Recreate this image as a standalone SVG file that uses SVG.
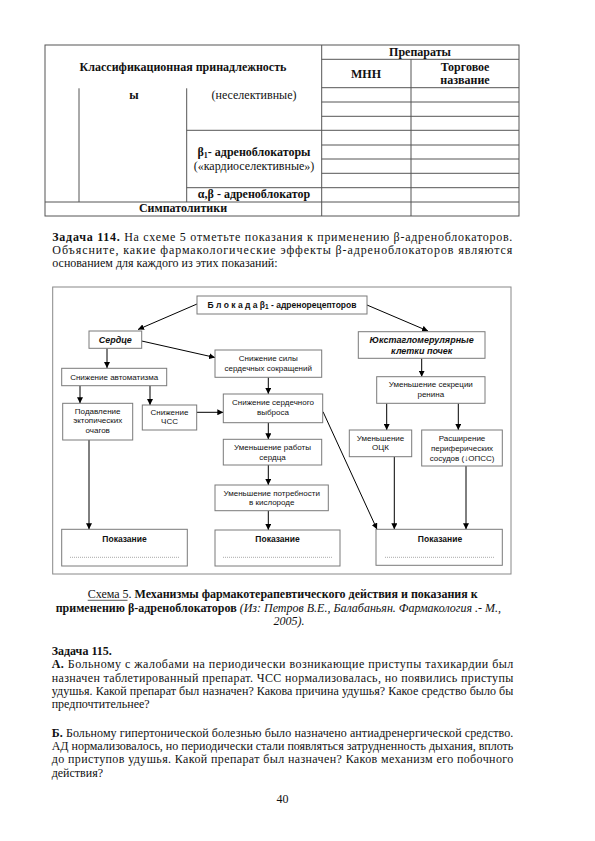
<svg xmlns="http://www.w3.org/2000/svg" width="595" height="841" viewBox="0 0 595 841">
<style>
.tl{stroke:#555;stroke-width:1;fill:none}
.tt{font-family:"Liberation Serif","Times New Roman",serif;font-size:12px;fill:#111}
.b{font-weight:bold}
.i{font-style:italic}
.c{text-anchor:middle}
.box{fill:#fff;stroke:#7a7a7a;stroke-width:1}
.dt{font-family:"Liberation Sans",Arial,sans-serif;font-size:8px;fill:#111;text-anchor:middle}
.db{font-weight:bold;font-size:8.5px}
.bi{font-weight:bold;font-style:italic;font-size:9px}
.dot{stroke:#777;stroke-width:0.8;stroke-dasharray:0.8 1.2}
.ar{stroke:#000;stroke-width:1;fill:none;marker-end:url(#ah)}
</style>
<defs>
<marker id="ah" viewBox="0 0 10 10" refX="10" refY="5" markerWidth="6" markerHeight="6" markerUnits="userSpaceOnUse" orient="auto">
<path d="M0,0 L10,5 L0,10 z" fill="#000"/>
</marker>
</defs>
<rect width="595" height="841" fill="#fff"/>

<!-- Table -->
<g id="table">
<rect class="tl" x="45" y="45" width="474" height="171"/>
<line class="tl" x1="321.7" y1="45" x2="321.7" y2="216"/>
<line class="tl" x1="411" y1="59.3" x2="411" y2="216"/>
<line class="tl" x1="321.7" y1="59.3" x2="519" y2="59.3"/>
<line class="tl" x1="321.7" y1="87.7" x2="519" y2="87.7"/>
<line class="tl" x1="321.7" y1="102" x2="519" y2="102"/>
<line class="tl" x1="321.7" y1="116.3" x2="519" y2="116.3"/>
<line class="tl" x1="186.7" y1="130.3" x2="519" y2="130.3"/>
<line class="tl" x1="321.7" y1="145" x2="519" y2="145"/>
<line class="tl" x1="321.7" y1="159" x2="519" y2="159"/>
<line class="tl" x1="321.7" y1="173.3" x2="519" y2="173.3"/>
<line class="tl" x1="186.7" y1="187.7" x2="519" y2="187.7"/>
<line class="tl" x1="45" y1="202" x2="519" y2="202"/>
<line class="tl" x1="79" y1="88.3" x2="79" y2="202"/>
<line class="tl" x1="186.7" y1="88.3" x2="186.7" y2="202"/>
<text class="tt b c" x="183" y="70.7">Классификационная принадлежность</text>
<text class="tt b c" x="420" y="56">Препараты</text>
<text class="tt b c" x="366" y="77.5">МНН</text>
<text class="tt b c" x="465" y="70.5">Торговое</text>
<text class="tt b c" x="465" y="84">название</text>
<text class="tt b c" x="134" y="99">ы</text>
<text class="tt c" x="254" y="99">(неселективные)</text>
<text class="tt b c" x="254" y="156">β<tspan font-size="8" dy="2">1</tspan><tspan dy="-2">- адреноблокаторы</tspan></text>
<text class="tt c" x="254" y="170">(«кардиоселективные»)</text>
<text class="tt b c" x="254" y="198">α,β - адреноблокатор</text>
<text class="tt b c" x="183" y="212">Симпатолитики</text>
</g>

<!-- Task 114 -->
<text class="tt" x="52.3" y="240.7" textLength="460" lengthAdjust="spacing"><tspan class="b">Задача 114.</tspan> На схеме 5 отметьте показания к применению β-адреноблокаторов.</text>
<text class="tt" x="52.3" y="254" textLength="460" lengthAdjust="spacing">Объясните, какие фармакологические эффекты β-адреноблокаторов являются</text>
<text class="tt" x="52.3" y="267.3">основанием для каждого из этих показаний:</text>

<!-- Diagram frame -->
<rect x="52.7" y="287" width="458.3" height="287" fill="none" stroke="#888" stroke-width="1"/>

<g id="connectors">
<line class="ar" x1="197" y1="304" x2="138" y2="329.5"/>
<line class="ar" x1="367" y1="305" x2="428" y2="331"/>
<line class="ar" x1="107" y1="348.3" x2="107" y2="368"/>
<line class="ar" x1="141.7" y1="341" x2="215" y2="357.5"/>
<line class="ar" x1="80" y1="385.7" x2="80" y2="403.3"/>
<line class="ar" x1="150" y1="385.7" x2="150" y2="405"/>
<line class="ar" x1="196.7" y1="412.3" x2="223.3" y2="412.3"/>
<line class="ar" x1="268.3" y1="377.3" x2="268.3" y2="394"/>
<line class="ar" x1="268.3" y1="422.7" x2="268.3" y2="439.3"/>
<line class="ar" x1="268.3" y1="465" x2="268.3" y2="485"/>
<line class="ar" x1="268.3" y1="510.7" x2="268.3" y2="530"/>
<line class="ar" x1="89" y1="440" x2="89" y2="529.3"/>
<line class="ar" x1="323" y1="411.7" x2="377" y2="529.3"/>
<line class="ar" x1="421.7" y1="358.3" x2="421.7" y2="376.7"/>
<line class="ar" x1="386.7" y1="403.3" x2="386.7" y2="430"/>
<line class="ar" x1="458.3" y1="403.3" x2="458.3" y2="430"/>
<line class="ar" x1="394.3" y1="456.7" x2="394.3" y2="529.3"/>
<line class="ar" x1="466" y1="466" x2="466" y2="529.3"/>
</g>

<g id="n-blokada">
<rect class="box" x="197" y="296" width="170" height="18"/>
<text class="dt db" x="282" y="307.8">Б л о к а д а  β<tspan font-size="6.5" dy="1.5">1</tspan><tspan dy="-1.5"> - адренорецепторов</tspan></text>
</g>
<g id="n-serdce">
<rect class="box" x="89" y="331" width="52.7" height="17.3"/>
<text class="dt bi" x="115.3" y="342.5">Сердце</text>
</g>
<g id="n-yukst">
<rect class="box" x="358.3" y="331.7" width="126.7" height="26.6"/>
<text class="dt bi" x="421.7" y="343.3">Юкстагломерулярные</text>
<text class="dt bi" x="421.7" y="353.5">клетки почек</text>
</g>
<g id="n-avtomat">
<rect class="box" x="61.7" y="368.3" width="105" height="17.4"/>
<text class="dt" x="114.2" y="379.5">Снижение автоматизма</text>
</g>
<g id="n-sily">
<rect class="box" x="215" y="350" width="106.7" height="27.3"/>
<text class="dt" x="268.3" y="361.3">Снижение силы</text>
<text class="dt" x="268.3" y="370.5">сердечных сокращений</text>
</g>
<g id="n-renin">
<rect class="box" x="376.7" y="376.7" width="108.3" height="26.6"/>
<text class="dt" x="430.8" y="387">Уменьшение секреции</text>
<text class="dt" x="430.8" y="397">ренина</text>
</g>
<g id="n-podavl">
<rect class="box" x="62.7" y="403.3" width="70" height="36.7"/>
<text class="dt" x="97.7" y="414">Подавление</text>
<text class="dt" x="97.7" y="423.3">эктопических</text>
<text class="dt" x="97.7" y="432.6">очагов</text>
</g>
<g id="n-chss">
<rect class="box" x="142.3" y="405" width="54.4" height="25"/>
<text class="dt" x="169.5" y="415.3">Снижение</text>
<text class="dt" x="169.5" y="424">ЧСС</text>
</g>
<g id="n-vybros">
<rect class="box" x="223.3" y="394" width="99.4" height="28.7"/>
<text class="dt" x="273" y="405.3">Снижение сердечного</text>
<text class="dt" x="273" y="414.5">выброса</text>
</g>
<g id="n-ock">
<rect class="box" x="349.3" y="430" width="62.4" height="26.7"/>
<text class="dt" x="380.5" y="441">Уменьшение</text>
<text class="dt" x="380.5" y="450.3">ОЦК</text>
</g>
<g id="n-rasshir">
<rect class="box" x="421.7" y="430" width="80.6" height="36"/>
<text class="dt" x="462" y="441">Расширение</text>
<text class="dt" x="462" y="451">периферических</text>
<text class="dt" x="462" y="461">сосудов (↓ОПСС)</text>
</g>
<g id="n-raboty">
<rect class="box" x="223.3" y="439.3" width="98.4" height="25.7"/>
<text class="dt" x="272.5" y="450.3">Уменьшение работы</text>
<text class="dt" x="272.5" y="459.5">сердца</text>
</g>
<g id="n-potreb">
<rect class="box" x="215" y="485" width="113.3" height="25.7"/>
<text class="dt" x="271.7" y="495.5">Уменьшение потребности</text>
<text class="dt" x="271.7" y="504.7">в кислороде</text>
</g>
<g id="n-pokaz-left">
<rect class="box" x="61.7" y="529.3" width="125.6" height="36.7"/>
<text class="dt db" x="124.5" y="541.7">Показание</text>
<line class="dot" x1="70" y1="557.3" x2="180" y2="557.3"/>
</g>
<g id="n-pokaz-mid">
<rect class="box" x="215" y="530" width="125" height="36"/>
<text class="dt db" x="277.5" y="541.7">Показание</text>
<line class="dot" x1="223" y1="557.3" x2="332" y2="557.3"/>
</g>
<g id="n-pokaz-right">
<rect class="box" x="376" y="529.3" width="126.3" height="36"/>
<text class="dt db" x="440" y="541.7">Показание</text>
<line class="dot" x1="385" y1="557.3" x2="495" y2="557.3"/>
</g>

<!-- Caption -->
<text class="tt" x="87.7" y="598.3">Схема 5.<tspan class="b"> Механизмы фармакотерапевтического действия и показания к</tspan></text>
<line x1="87.7" y1="600.3" x2="127.5" y2="600.3" stroke="#111" stroke-width="0.7"/>
<text class="tt" x="55.7" y="611.7"><tspan class="b">применению β-адреноблокаторов</tspan><tspan class="i"> (Из:  Петров В.Е., Балабаньян. Фармакология .- М.,</tspan></text>
<text class="tt i c" x="289" y="625">2005).</text>

<!-- Task 115 -->
<text class="tt b" x="51.7" y="655">Задача 115.</text>
<text class="tt" x="51.7" y="668.3" textLength="461.6" lengthAdjust="spacing"><tspan class="b">А.</tspan> Больному с жалобами на периодически возникающие приступы тахикардии был</text>
<text class="tt" x="51.7" y="681.7" textLength="461.6" lengthAdjust="spacing">назначен таблетированный препарат. ЧСС нормализовалась, но появились приступы</text>
<text class="tt" x="51.7" y="695" textLength="461.6" lengthAdjust="spacing">удушья. Какой препарат был назначен? Какова причина удушья? Какое средство было бы</text>
<text class="tt" x="51.7" y="708.3">предпочтительнее?</text>
<text class="tt" x="51.7" y="736.7" textLength="461.6" lengthAdjust="spacing"><tspan class="b">Б.</tspan> Больному гипертонической болезнью было назначено антиадренергической средство.</text>
<text class="tt" x="51.7" y="750" textLength="461.6" lengthAdjust="spacing">АД нормализовалось, но периодически стали появляться затрудненность дыхания, вплоть</text>
<text class="tt" x="51.7" y="763.3" textLength="461.6" lengthAdjust="spacing">до приступов удушья. Какой препарат был назначен? Каков механизм его побочного</text>
<text class="tt" x="51.7" y="776.7">действия?</text>
<text class="tt c" x="282.5" y="802.7">40</text>
</svg>
